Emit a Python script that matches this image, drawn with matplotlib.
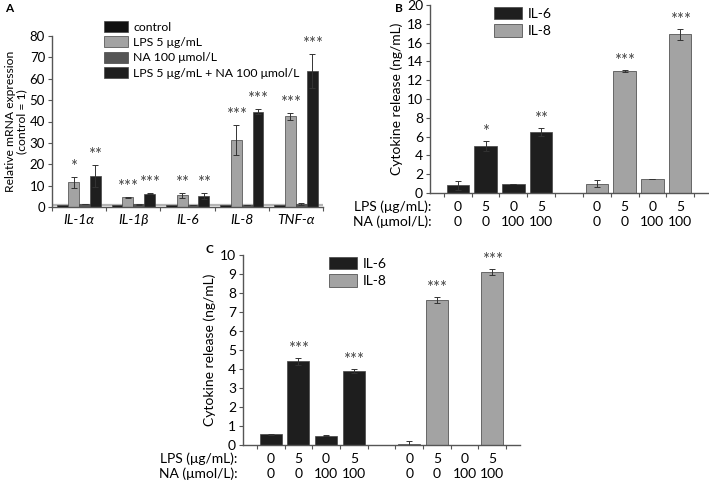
import numpy as np
import matplotlib
matplotlib.use("Agg")
import matplotlib.pyplot as plt
from matplotlib.patches import Patch

plt.rcParams['font.family'] = ['Lato', 'DejaVu Sans']
plt.rcParams['font.size'] = 9

# ---- panel A data ----
genes = ['IL-1α', 'IL-1β', 'IL-6', 'IL-8', 'TNF-α']
a_series = ['control', 'LPS 5 μg/mL', 'NA 100 μmol/L', 'LPS 5 μg/mL + NA 100 μmol/L']
a_control = [1.0, 1.0, 1.0, 1.0, 1.0]
a_lps = [11.5, 4.5, 5.5, 31.5, 42.5]
a_na = [1.5, 1.2, 1.0, 1.0, 1.5]
a_lps_na = [14.5, 6.3, 5.2, 44.5, 63.5]
a_lps_err = [2.5, 0.3, 1.2, 7.0, 1.6]
a_na_err = [0.1, 0.1, 0.1, 0.1, 0.4]
a_lps_na_err = [5.2, 0.4, 1.5, 1.2, 8.0]
a_lps_sig = ['*', '***', '**', '***', '***']
a_lps_na_sig = ['**', '***', '**', '***', '***']

# ---- panel B / C data ----
lps_row = ['0', '5', '0', '5', '0', '5', '0', '5']
na_row = ['0', '0', '100', '100', '0', '0', '100', '100']
b_il6 = [0.8, 5.0, 1.0, 6.5]
b_il6_err = [0.5, 0.5, 0.0, 0.4]
b_il8 = [1.0, 13.0, 1.5, 16.9]
b_il8_err = [0.4, 0.1, 0.0, 0.6]
b_il6_sig = ['', '*', '', '**']
b_il8_sig = ['', '***', '', '***']
c_il6 = [0.57, 4.4, 0.5, 3.9]
c_il6_err = [0.03, 0.2, 0.03, 0.1]
c_il8 = [0.07, 7.65, 0.0, 9.1]
c_il8_err = [0.15, 0.15, 0.0, 0.15]
c_il6_sig = ['', '***', '', '***']
c_il8_sig = ['', '***', '', '***']

DARK = '#1e1e1e'
LIGHT = '#a3a3a3'
MID = '#555555'
EDGE = '#444444'
AX = '#555555'
SIG = '#444444'

fig = plt.figure(figsize=(7.09, 4.8), dpi=100)


def style_axes(ax, lsize):
    for s in ['top', 'right']:
        ax.spines[s].set_visible(False)
    for s in ['left', 'bottom']:
        ax.spines[s].set_color(AX)
        ax.spines[s].set_linewidth(1.0)
    ax.tick_params(axis='y', length=3, width=0.8, color=AX, pad=2, labelsize=lsize)
    ax.tick_params(axis='x', length=3, width=0.8, color=AX)


# ---------------- panel A ----------------
axA = fig.add_axes([52 / 709, 1 - 207 / 480, 271 / 709, 171 / 480])
style_axes(axA, 9.5)
x = np.arange(len(genes))
w = 0.2
ekw = dict(ecolor='#333333', elinewidth=0.7, capsize=2, capthick=0.7)
axA.axhline(1, color='#b5b5b5', lw=1.6, zorder=0)
axA.bar(x - 1.5 * w, a_control, w, color='#111111', edgecolor=EDGE, lw=0.5, zorder=2)
axA.bar(x - 0.5 * w, a_lps, w, yerr=a_lps_err, color=LIGHT, edgecolor=EDGE, lw=0.5,
        error_kw=ekw, zorder=2)
axA.bar(x + 0.5 * w, a_na, w, yerr=a_na_err, color=MID, edgecolor=EDGE, lw=0.5,
        error_kw=ekw, zorder=2)
axA.bar(x + 1.5 * w, a_lps_na, w, yerr=a_lps_na_err, color=DARK, edgecolor=EDGE, lw=0.5,
        error_kw=ekw, zorder=2)
for i in range(len(genes)):
    axA.text(x[i] - 0.5 * w, a_lps[i] + a_lps_err[i] + 1.0, a_lps_sig[i],
             ha='center', va='bottom', fontsize=12, color=SIG)
    axA.text(x[i] + 1.5 * w, a_lps_na[i] + a_lps_na_err[i] + 1.0, a_lps_na_sig[i],
             ha='center', va='bottom', fontsize=12, color=SIG)
axA.set_xlim(-0.5, len(genes) - 0.5)
axA.set_ylim(0, 80)
axA.set_yticks(np.arange(0, 81, 10))
axA.set_xticks(np.arange(-0.5, len(genes), 1))
axA.set_xticklabels([])
axA.set_xticks(x, minor=True)
axA.set_xticklabels(genes, minor=True, style='italic', fontsize=10)
axA.tick_params(axis='x', which='minor', length=0, pad=5)
axA.set_ylabel('Relative mRNA expression\n(control = 1)', fontsize=8.7, linespacing=1.0)
axA.yaxis.set_label_coords(-25 / 271, 0.5)
handles = [Patch(facecolor=c, edgecolor=EDGE, lw=0.5) for c in ['#111111', LIGHT, MID, DARK]]
fig.legend(handles, a_series, loc='upper left', bbox_to_anchor=(104 / 709, 1 - 21 / 480),
           frameon=False, fontsize=8.8, handlelength=2.0, handleheight=1.0,
           labelspacing=0.3, handletextpad=0.4, borderpad=0, borderaxespad=0)
fig.text(5 / 709, 1 - 8 / 480, 'A', fontsize=8.5, fontweight='bold', va='center')


# ---------------- panels B, C ----------------
def cytokine_panel(rect, il6, il6_err, il8, il8_err, il6_sig, il8_sig, ymax, ystep,
                   legend_xy, letter_xy, letter, label_x, sig_off):
    ax = fig.add_axes(rect)
    style_axes(ax, 10)
    pos6 = np.arange(4)
    pos8 = np.arange(5, 9)
    ekw2 = dict(ecolor='#333333', elinewidth=0.7, capsize=2, capthick=0.7)
    ax.bar(pos6, il6, 0.8, yerr=il6_err, color=DARK, edgecolor=EDGE, lw=0.5,
           error_kw=ekw2, label='IL-6', zorder=2)
    ax.bar(pos8, il8, 0.8, yerr=il8_err, color=LIGHT, edgecolor='#666666', lw=0.7,
           error_kw=ekw2, label='IL-8', zorder=2)
    for p, v, e, s in zip(pos6, il6, il6_err, il6_sig):
        if s:
            ax.text(p, v + e + sig_off, s, ha='center', va='bottom', fontsize=12, color=SIG)
    for p, v, e, s in zip(pos8, il8, il8_err, il8_sig):
        if s:
            ax.text(p, v + e + sig_off, s, ha='center', va='bottom', fontsize=12, color=SIG)
    ax.set_xlim(-1, 9)
    ax.set_ylim(0, ymax)
    ax.set_yticks(np.arange(0, ymax + 0.01, ystep))
    ax.set_xticks(np.arange(-0.5, 9, 1))
    ax.set_xticklabels([])
    ax.set_ylabel('Cytokine release (ng/mL)', fontsize=10, labelpad=3)
    allpos = list(pos6) + list(pos8)
    for p, l, n in zip(allpos, lps_row, na_row):
        ax.annotate(l, (p, 0), xycoords=('data', 'axes fraction'), xytext=(0, -10),
                    textcoords='offset points', ha='center', va='center', fontsize=10)
        ax.annotate(n, (p, 0), xycoords=('data', 'axes fraction'), xytext=(0, -21),
                    textcoords='offset points', ha='center', va='center', fontsize=10)
    ax.annotate('LPS (μg/mL):', (label_x, 0), xycoords=('data', 'axes fraction'),
                xytext=(0, -10), textcoords='offset points', ha='right', va='center',
                fontsize=10)
    ax.annotate('NA (μmol/L):', (label_x, 0), xycoords=('data', 'axes fraction'),
                xytext=(0, -21), textcoords='offset points', ha='right', va='center',
                fontsize=10)
    ax.legend(loc='upper left', bbox_to_anchor=legend_xy, bbox_transform=fig.transFigure,
              frameon=False, fontsize=10, handlelength=2.0, handleheight=1.0,
              labelspacing=0.3, handletextpad=0.4, borderpad=0, borderaxespad=0)
    fig.text(letter_xy[0], letter_xy[1], letter, fontsize=8.5, fontweight='bold', va='center')
    return ax


cytokine_panel([430 / 709, 1 - 193 / 480, 278 / 709, 188 / 480],
               b_il6, b_il6_err, b_il8, b_il8_err, b_il6_sig, b_il8_sig, 20, 2,
               (494 / 709, 1 - 7 / 480), (395 / 709, 1 - 9 / 480), 'B', -0.95, 0.1)
cytokine_panel([243 / 709, 1 - 445 / 480, 277 / 709, 190 / 480],
               c_il6, c_il6_err, c_il8, c_il8_err, c_il6_sig, c_il8_sig, 10, 1,
               (329 / 709, 1 - 257 / 480), (205 / 709, 1 - 249 / 480), 'C', -1.2, 0.05)

fig.savefig('out.png', dpi=100)
